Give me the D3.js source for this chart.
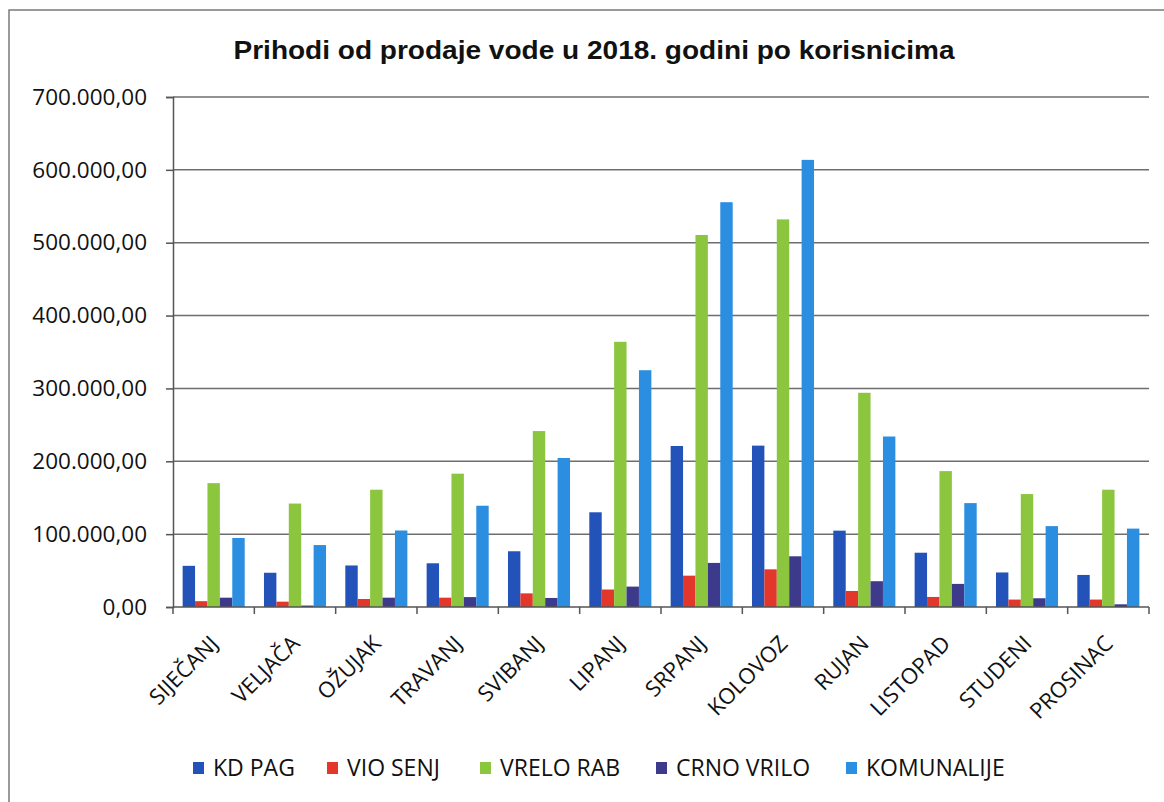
<!DOCTYPE html>
<html>
<head>
<meta charset="utf-8">
<script src="https://cdn.jsdelivr.net/npm/d3@7"></script>
<style>
  body { margin: 0; background: #fff; }
  svg text { fill: #111; }
</style>
</head>
<body>
<div id="chart"></div>
<script>
const months = ['SIJEČANJ', 'VELJAČA', 'OŽUJAK', 'TRAVANJ', 'SVIBANJ', 'LIPANJ',
  'SRPANJ', 'KOLOVOZ', 'RUJAN', 'LISTOPAD', 'STUDENI', 'PROSINAC'];
const seriesNames = ['KD PAG', 'VIO SENJ', 'VRELO RAB', 'CRNO VRILO', 'KOMUNALIJE'];
const kdPag = [56500, 47000, 57000, 60000, 76500, 130000, 221000, 221500, 104800, 74500, 47400, 44000];
const vioSenj = [8000, 7300, 11000, 12800, 18700, 24000, 43000, 51700, 22000, 13800, 10200, 10200];
const vreloRab = [170000, 142000, 161000, 183000, 241500, 364000, 510600, 532000, 294000, 186500, 155000, 161000];
const crnoVrilo = [12800, 2000, 12800, 13600, 12400, 28000, 60500, 69600, 35400, 31700, 12000, 3700];
const komunalije = [94700, 85000, 105000, 139000, 204500, 325000, 555600, 613700, 234000, 142600, 111000, 107600];
const yTicks = [0, 100000, 200000, 300000, 400000, 500000, 600000, 700000];

const seriesValues = [kdPag, vioSenj, vreloRab, crnoVrilo, komunalije];
const colors = ['#2352b8', '#e2372a', '#8cc63e', '#3d3a8c', '#2b8ee0'];

const width = 1164;
const height = 802;
const margin = { top: 97, right: 15, bottom: 195, left: 173 };

const svg = d3.select('#chart')
  .append('svg')
  .attr('width', width)
  .attr('height', height);

// frame of the scanned chart
svg.append('path')
  .attr('d', `M9,${height} V10 H${width}`)
  .attr('fill', 'none')
  .attr('stroke', '#7a7a7a')
  .attr('stroke-width', 1.5);

const x0 = d3.scaleBand()
  .domain(months)
  .range([margin.left, width - margin.right])
  .paddingInner(0.237)
  .paddingOuter(0.1185);

const x1 = d3.scaleBand()
  .domain(seriesNames)
  .range([0, x0.bandwidth()]);

const y = d3.scaleLinear()
  .domain([0, 700000])
  .range([height - margin.bottom, margin.top]);

const fmt = v => d3.format(',.2f')(v).replace(/,/g, 'X').replace('.', ',').replace(/X/g, '.');

// gridlines
svg.append('g')
  .selectAll('line')
  .data(yTicks.filter(d => d > 0))
  .enter().append('line')
  .attr('x1', margin.left)
  .attr('x2', width - margin.right)
  .attr('y1', d => y(d))
  .attr('y2', d => y(d))
  .attr('stroke', '#6e6e6e')
  .attr('stroke-width', 1.5);

// y axis
const yAxis = svg.append('g')
  .attr('transform', `translate(${margin.left},0)`)
  .call(d3.axisLeft(y).tickValues(yTicks).tickSize(7).tickPadding(19).tickFormat(fmt));
yAxis.selectAll('line, path').attr('stroke', '#555').attr('stroke-width', 1.5);
yAxis.selectAll('text')
  .attr('font-family', '"Open Sans", sans-serif')
  .attr('font-size', 22.5)
  .attr('fill', '#111');

// bars
const groups = svg.append('g')
  .selectAll('g')
  .data(months)
  .enter().append('g')
  .attr('transform', d => `translate(${x0(d)},0)`);

groups.selectAll('rect')
  .data((m, i) => seriesNames.map((s, k) => ({ key: s, value: seriesValues[k][i], color: colors[k] })))
  .enter().append('rect')
  .attr('x', d => x1(d.key))
  .attr('width', x1.bandwidth())
  .attr('y', d => y(d.value))
  .attr('height', d => y(0) - y(d.value))
  .attr('fill', d => d.color);

// x axis baseline and ticks between categories
const step = x0.step();
const tickXs = months.map(m => x0(m) - step * x0.paddingInner() / 2)
  .concat([width - margin.right]);
svg.append('line')
  .attr('x1', margin.left)
  .attr('x2', width - margin.right)
  .attr('y1', y(0))
  .attr('y2', y(0))
  .attr('stroke', '#555')
  .attr('stroke-width', 1.5);
svg.append('g')
  .selectAll('line')
  .data(tickXs)
  .enter().append('line')
  .attr('x1', d => d)
  .attr('x2', d => d)
  .attr('y1', y(0))
  .attr('y2', y(0) + 7)
  .attr('stroke', '#555')
  .attr('stroke-width', 1.5);

// rotated month labels
svg.append('g')
  .selectAll('text')
  .data(months)
  .enter().append('text')
  .attr('transform', d => `translate(${x0(d) + x0.bandwidth() / 2 + 6},${y(0) + 38}) rotate(-45)`)
  .attr('text-anchor', 'end')
  .attr('font-family', '"Open Sans", sans-serif')
  .attr('font-size', 22)
  .text(d => d);

// title
svg.append('text')
  .attr('x', 594)
  .attr('y', 59)
  .attr('text-anchor', 'middle')
  .attr('font-family', '"Liberation Sans", Arial, sans-serif')
  .attr('font-weight', 'bold')
  .attr('font-size', 26)
  .attr('textLength', 721)
  .attr('lengthAdjust', 'spacingAndGlyphs')
  .text('Prihodi od prodaje vode u 2018. godini po korisnicima');

// legend
const legendX = [193, 327, 480, 656, 846];
const legend = svg.append('g')
  .selectAll('g')
  .data(seriesNames)
  .enter().append('g')
  .attr('transform', (d, i) => `translate(${legendX[i]},768)`);
legend.append('rect')
  .attr('x', 0)
  .attr('y', -6)
  .attr('width', 11)
  .attr('height', 12)
  .attr('fill', (d, i) => colors[i]);
legend.append('text')
  .attr('x', 20)
  .attr('y', 8)
  .attr('font-family', '"Open Sans", sans-serif')
  .attr('font-size', 23)
  .text(d => d);
</script>
</body>
</html>
